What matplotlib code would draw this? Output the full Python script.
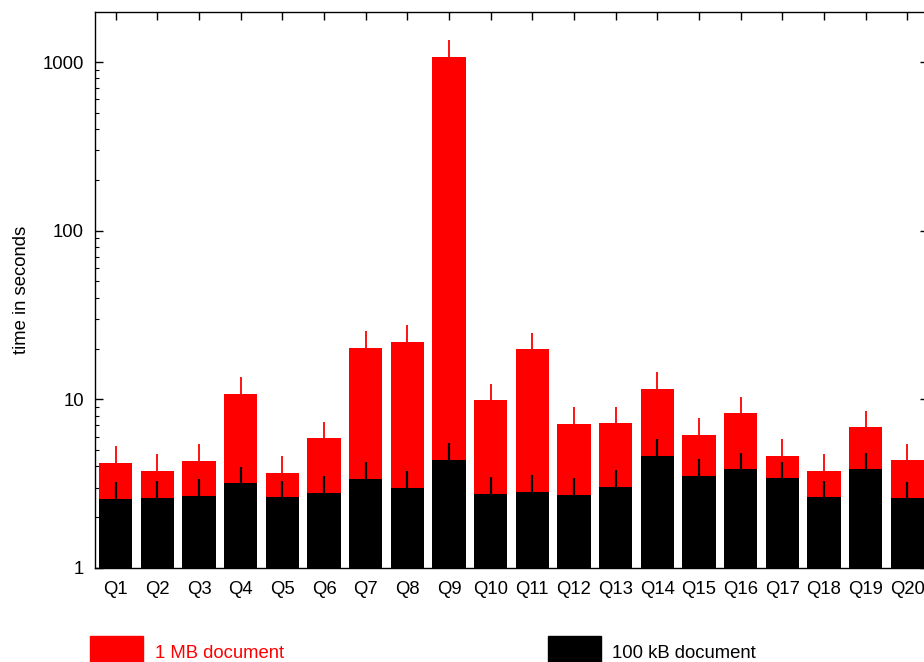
"""
Query timings for 1 MB and 100 kB documents (log scale bar chart).
"""

import numpy as np
import matplotlib
matplotlib.use("Agg")
import matplotlib.pyplot as plt
from matplotlib.patches import Rectangle


# ── Data ───────────────────────────────────────────────────────────────────────
queries = [f"Q{i}" for i in range(1, 21)]

# 1 MB document: mean time and top of error bar (seconds)
mb_time = [4.21, 3.77, 4.31, 10.8, 3.66, 5.90, 20.1, 21.9, 1069, 9.9,
           19.8, 7.14, 7.21, 11.5, 6.14, 8.26, 4.59, 3.76, 6.82, 4.35]
mb_top = [5.31, 4.74, 5.41, 13.5, 4.59, 7.33, 25.4, 27.6, 1349, 12.3,
          24.7, 9.0, 9.0, 14.5, 7.75, 10.3, 5.79, 4.72, 8.56, 5.45]

# 100 kB document
kb_time = [2.57, 2.61, 2.68, 3.19, 2.62, 2.77, 3.36, 2.98, 4.37, 2.75,
           2.82, 2.72, 3.02, 4.63, 3.53, 3.86, 3.42, 2.62, 3.85, 2.59]
kb_top = [3.22, 3.28, 3.37, 3.99, 3.29, 3.51, 4.23, 3.74, 5.48, 3.46,
          3.56, 3.43, 3.79, 5.82, 4.43, 4.83, 4.27, 3.28, 4.80, 3.25]

legend_labels = ["1 MB document", "100 kB document"]


# ── Figure ─────────────────────────────────────────────────────────────────────
plt.rcParams["font.family"] = ["Liberation Sans", "DejaVu Sans"]
plt.rcParams["font.size"] = 13.3

fig = plt.figure(figsize=(9.24, 6.62), dpi=100)
# right spine sits just past the image edge, like the original
ax = fig.add_axes([95 / 924, 94 / 662, 833 / 924, 556 / 662])

x = np.arange(1, len(queries) + 1)
mb_time = np.array(mb_time)
kb_time = np.array(kb_time)
mb_err = np.array(mb_top) - mb_time
kb_err = np.array(kb_top) - kb_time

ax.bar(x, mb_time, width=0.8, color="#ff0000", zorder=2)
ax.errorbar(x, mb_time, yerr=[np.zeros_like(mb_err), mb_err], fmt="none",
            ecolor="#ff0000", elinewidth=1.3, capsize=0, zorder=3)
ax.bar(x, kb_time, width=0.8, color="black", zorder=4)
ax.errorbar(x, kb_time, yerr=[np.zeros_like(kb_err), kb_err], fmt="none",
            ecolor="black", elinewidth=1.6, capsize=0, zorder=5)

ax.set_yscale("log")
ax.set_ylim(1, 1980)
ax.set_xlim(0.5, 20.5)
ax.set_yticks([1, 10, 100, 1000])
ax.set_yticklabels(["1", "10", "100", "1000"])
ax.set_xticks(x)
ax.set_xticklabels(queries)

ax.tick_params(axis="y", which="major", direction="in", length=6, width=1,
               left=True, right=True, pad=8)
ax.tick_params(axis="y", which="minor", direction="in", length=3, width=0.8,
               left=True, right=True)
ax.tick_params(axis="x", which="major", direction="in", length=6, width=1,
               top=True, bottom=False, pad=9.5)
ax.tick_params(axis="x", which="minor", bottom=False, top=False)
for s in ax.spines.values():
    s.set_linewidth(1.0)
    s.set_zorder(6)

ax.set_ylabel("time in seconds", labelpad=9)


# ── Legend (drawn below the plot) ──────────────────────────────────────────────
fig.patches.append(Rectangle((90 / 924, 0), 53 / 924, 26 / 662,
                             transform=fig.transFigure, color="#ff0000"))
fig.text(155 / 924, 8 / 662, legend_labels[0], color="#ff0000",
         ha="left", va="center")
fig.patches.append(Rectangle((548 / 924, 0), 53 / 924, 26 / 662,
                             transform=fig.transFigure, color="black"))
fig.text(612 / 924, 8 / 662, legend_labels[1], color="black",
         ha="left", va="center")

fig.savefig("out.png", dpi=100)
